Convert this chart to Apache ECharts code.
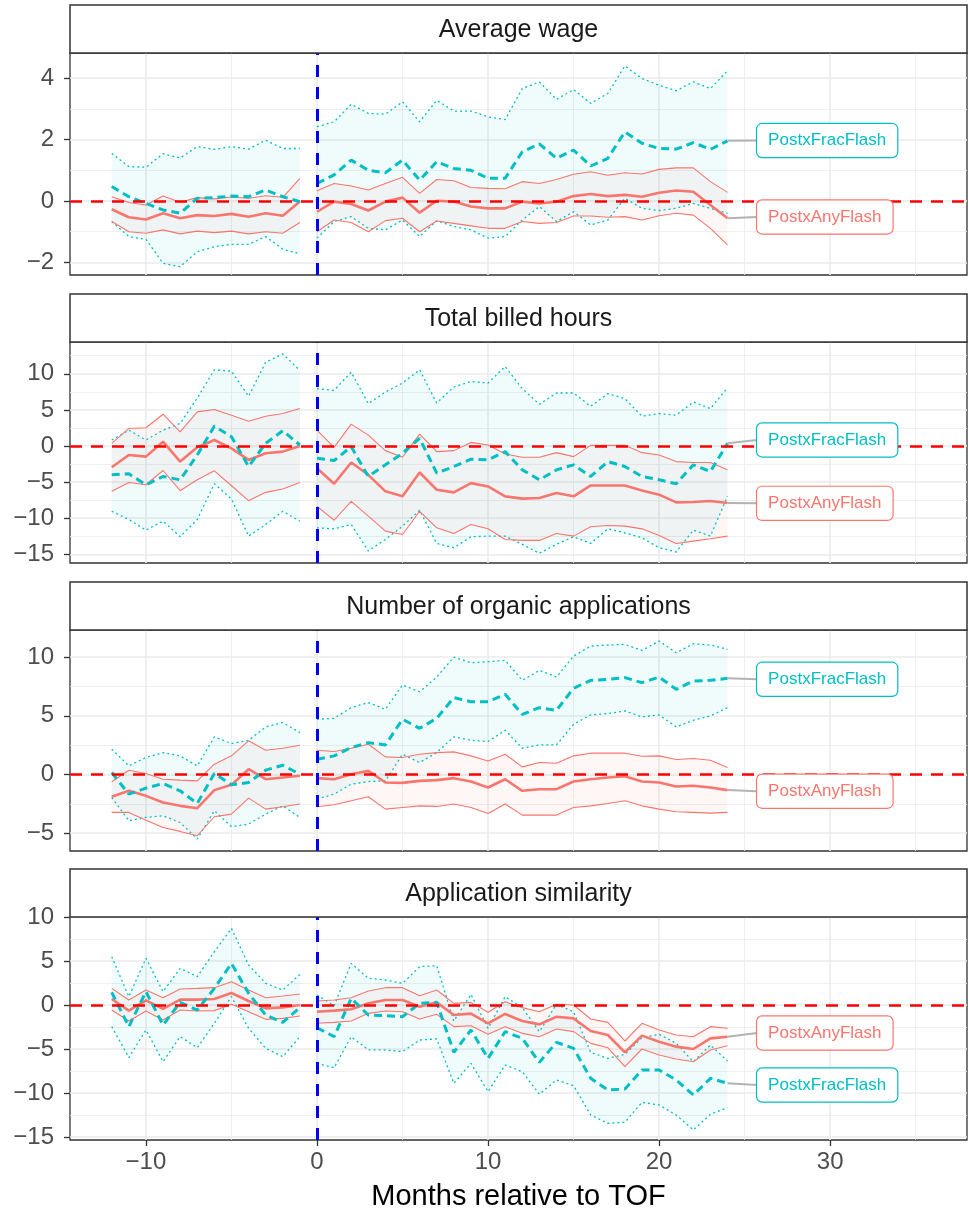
<!DOCTYPE html>
<html>
<head>
<meta charset="utf-8">
<script src="https://cdn.jsdelivr.net/npm/echarts@6/dist/echarts.min.js"></script>
<style>
  html, body { margin: 0; padding: 0; background: #fff; }
  #main { width: 968px; height: 1217px; }
</style>
</head>
<body>
<div id="main"></div>
<script>
// months relative to TOF (pre: -12..-1, post: 0..24)
var months = [-12, -11, -10, -9, -8, -7, -6, -5, -4, -3, -2, -1,
  0, 1, 2, 3, 4, 5, 6, 7, 8, 9, 10, 11, 12, 13, 14, 15, 16, 17, 18, 19, 20, 21, 22, 23, 24];

var panelTitles = ['Average wage', 'Total billed hours', 'Number of organic applications', 'Application similarity'];
var xMajorTicks = [-10, 0, 10, 20, 30];
var xMinorTicks = [-5, 5, 15, 25, 35];
var yMajorTicks = [[-2, 0, 2, 4], [-15, -10, -5, 0, 5, 10], [-5, 0, 5, 10], [-15, -10, -5, 0, 5, 10]];
var yMinorTicks = [[-1, 1, 3], [-12.5, -7.5, -2.5, 2.5, 7.5, 12.5], [-2.5, 2.5, 7.5], [-12.5, -7.5, -2.5, 2.5, 7.5]];
var yMin = [-2.41, -16.2, -6.52, -15.34];
var yMax = [4.82, 14.4, 12.32, 10.0];
var refX = 0, refY = 0;

// Average wage
var p1AnyEst = [-0.27, -0.53, -0.60, -0.40, -0.56, -0.46, -0.49, -0.42, -0.51, -0.40, -0.48, -0.02,
  -0.35, -0.02, -0.10, -0.31, -0.02, 0.11, -0.38, 0.01, -0.02, -0.18, -0.24, -0.24, -0.02, -0.08, -0.02, 0.16, 0.23, 0.16, 0.20, 0.14, 0.27, 0.34, 0.30, -0.13, -0.56];
var p1AnyHi = [0.14, -0.05, -0.13, 0.16, -0.04, 0.11, 0.07, 0.13, 0.09, 0.17, 0.12, 0.74,
  0.33, 0.57, 0.49, 0.36, 0.57, 0.77, 0.25, 0.70, 0.66, 0.44, 0.41, 0.40, 0.63, 0.57, 0.70, 0.87, 0.95, 0.84, 0.92, 0.88, 1.03, 1.08, 1.08, 0.63, 0.28];
var p1AnyLo = [-0.67, -1.00, -1.05, -0.94, -1.07, -0.98, -1.03, -0.98, -1.07, -1.00, -1.05, -0.70,
  -1.00, -0.62, -0.70, -1.00, -0.64, -0.56, -1.00, -0.65, -0.73, -0.81, -0.89, -0.89, -0.67, -0.73, -0.70, -0.49, -0.49, -0.53, -0.51, -0.62, -0.48, -0.40, -0.46, -0.89, -1.43];
var p1FracEst = [0.47, 0.14, -0.08, -0.29, -0.40, 0.09, 0.11, 0.16, 0.14, 0.36, 0.14, -0.02,
  0.57, 0.85, 1.33, 1.00, 0.92, 1.33, 0.68, 1.28, 1.06, 1.00, 0.74, 0.74, 1.60, 1.86, 1.39, 1.66, 1.14, 1.39, 2.25, 1.88, 1.71, 1.69, 1.90, 1.68, 1.96];
var p1FracHi = [1.55, 1.12, 1.10, 1.54, 1.40, 1.77, 1.68, 1.77, 1.69, 1.98, 1.71, 1.71,
  2.42, 2.58, 3.15, 2.85, 2.83, 3.23, 2.58, 3.28, 2.93, 2.93, 2.74, 2.65, 3.66, 3.88, 3.31, 3.63, 3.18, 3.50, 4.40, 3.99, 3.77, 3.59, 3.88, 3.66, 4.24];
var p1FracLo = [-0.67, -1.16, -1.25, -2.03, -2.14, -1.65, -1.49, -1.41, -1.41, -1.16, -1.57, -1.72,
  -1.21, -0.67, -0.51, -0.89, -0.94, -0.62, -1.16, -0.64, -0.83, -0.94, -1.21, -1.16, -0.62, -0.18, -0.67, -0.35, -0.78, -0.62, 0.09, -0.24, -0.31, -0.24, -0.08, -0.24, -0.40];

// Total billed hours
var p2AnyEst = [-2.94, -1.24, -1.47, 0.60, -2.16, -0.18, 0.83, -0.32, -1.93, -1.01, -0.78, 0.00,
  -3.07, -5.23, -2.29, -3.99, -6.28, -6.97, -3.67, -6.06, -6.42, -5.14, -5.60, -6.97, -7.29, -7.20, -6.51, -6.97, -5.46, -5.46, -5.46, -6.15, -6.74, -7.80, -7.75, -7.61, -7.89];
var p2AnyHi = [0.37, 2.43, 2.52, 4.40, 1.97, 4.72, 5.05, 4.27, 3.44, 4.13, 4.50, 5.18,
  2.20, -0.18, 3.03, 1.51, -0.64, -1.56, 1.65, -0.78, -0.64, 0.50, 0.14, -1.10, -1.56, -1.56, -0.92, -1.47, 0.09, 0.09, 0.09, -0.92, -1.24, -2.16, -2.29, -2.29, -3.30];
var p2AnyLo = [-6.28, -5.05, -5.37, -3.39, -6.19, -4.68, -3.44, -5.50, -7.57, -6.42, -5.96, -5.05,
  -8.35, -10.28, -7.66, -9.72, -11.79, -12.25, -9.04, -11.33, -12.11, -10.87, -11.47, -12.94, -13.07, -13.07, -12.11, -12.48, -11.19, -11.01, -11.10, -11.47, -12.39, -13.49, -13.17, -12.84, -12.48];
var p2FracEst = [-3.99, -3.85, -5.37, -4.22, -4.68, -1.24, 2.75, 1.28, -2.84, 0.37, 2.11, 0.14,
  -1.70, -2.02, -0.09, -4.22, -2.61, -1.01, 1.06, -3.76, -2.84, -1.83, -1.93, -0.78, -3.30, -4.68, -3.30, -2.61, -4.22, -2.16, -2.84, -4.22, -4.68, -5.23, -2.61, -3.53, 0.37];
var p2FracHi = [0.83, 2.20, 0.83, 2.20, 3.12, 6.65, 10.55, 10.37, 6.88, 11.60, 12.75, 10.46,
  7.94, 7.71, 10.23, 5.87, 7.48, 8.72, 10.55, 5.96, 8.17, 8.94, 8.72, 11.01, 7.94, 5.78, 7.34, 7.34, 5.50, 7.25, 6.56, 4.13, 4.50, 4.27, 6.10, 5.18, 8.07];
var p2FracLo = [-9.04, -10.18, -11.65, -10.41, -12.57, -10.18, -5.23, -7.34, -12.48, -10.87, -9.04, -10.41,
  -11.33, -11.47, -10.87, -14.54, -12.94, -11.10, -8.90, -13.49, -14.08, -12.57, -12.48, -12.48, -13.62, -14.86, -13.62, -12.57, -13.49, -11.47, -12.02, -12.71, -14.08, -14.68, -11.65, -12.48, -6.97];

// Number of organic applications
var p3AnyEst = [-1.90, -1.39, -1.82, -2.38, -2.67, -2.87, -1.33, -0.88, 0.45, -0.40, -0.26, -0.11,
  -0.31, -0.40, 0.03, 0.31, -0.68, -0.71, -0.54, -0.48, -0.31, -0.60, -1.11, -0.40, -1.39, -1.25, -1.25, -0.60, -0.40, -0.26, -0.14, -0.60, -0.68, -1.02, -0.96, -1.11, -1.33];
var p3AnyHi = [-0.62, 0.37, 0.09, -0.40, -0.48, -0.54, 0.88, 1.59, 2.87, 2.07, 2.24, 2.50,
  2.07, 1.96, 2.24, 2.58, 1.50, 1.45, 1.73, 1.87, 1.93, 1.59, 1.16, 1.73, 0.65, 1.02, 0.96, 1.59, 1.82, 1.84, 1.82, 1.56, 1.59, 1.28, 1.36, 1.22, 0.60];
var p3AnyLo = [-3.23, -3.23, -3.89, -4.51, -4.85, -5.22, -3.60, -3.38, -2.01, -2.95, -2.75, -2.52,
  -2.75, -2.58, -2.24, -1.90, -2.95, -2.81, -2.67, -2.72, -2.52, -2.81, -3.32, -2.52, -3.46, -3.46, -3.46, -2.81, -2.67, -2.47, -2.24, -2.67, -2.95, -3.18, -3.23, -3.29, -3.23];
var p3FracEst = [0.17, -1.67, -1.16, -0.77, -1.39, -2.47, 0.09, -0.88, -0.68, 0.37, 0.79, 0.03,
  1.30, 1.59, 2.30, 2.72, 2.52, 4.71, 3.94, 4.79, 6.55, 6.21, 6.21, 6.84, 5.13, 5.70, 5.47, 7.35, 8.03, 8.11, 8.26, 7.83, 8.31, 7.26, 7.97, 8.03, 8.20];
var p3FracHi = [2.16, 0.74, 1.45, 1.87, 1.59, 0.74, 3.21, 2.64, 2.92, 4.06, 4.43, 3.57,
  4.71, 4.79, 5.70, 6.13, 5.56, 7.63, 7.06, 8.31, 10.01, 9.53, 9.62, 9.73, 8.03, 8.88, 8.31, 10.10, 10.95, 11.04, 11.09, 10.58, 11.38, 10.38, 11.15, 11.04, 10.67];
var p3FracLo = [-1.96, -3.94, -3.66, -3.52, -4.09, -5.50, -3.09, -4.45, -4.23, -3.38, -2.67, -3.66,
  -2.10, -1.67, -0.82, -0.60, -0.54, 1.73, 1.02, 1.87, 3.21, 2.92, 2.81, 3.77, 2.24, 2.52, 2.52, 4.28, 5.08, 5.19, 5.42, 4.91, 5.08, 4.06, 4.62, 4.99, 5.70];

// Application similarity
var p4AnyEst = [0.68, -0.64, 0.53, -0.45, 0.61, 0.61, 0.68, 1.36, 0.45, -0.38, -0.27, 0.00,
  -0.76, -0.64, -0.49, 0.19, 0.57, 0.57, -0.19, 0.30, -1.14, -0.98, -2.08, -1.02, -1.82, -2.20, -1.33, -1.52, -2.95, -3.41, -5.38, -3.48, -4.17, -4.73, -5.00, -3.79, -3.60];
var p4AnyHi = [1.89, 0.57, 1.70, 0.83, 1.82, 1.89, 1.97, 2.65, 1.70, 0.83, 1.02, 1.25,
  0.45, 0.57, 0.83, 1.59, 1.97, 1.97, 1.06, 1.70, 0.19, 0.30, -0.83, 0.38, -0.30, -0.76, 0.08, 0.00, -1.59, -1.97, -4.09, -2.08, -2.84, -3.41, -3.60, -2.46, -2.65];
var p4AnyLo = [-0.57, -1.82, -0.68, -1.70, -0.57, -0.68, -0.64, 0.08, -0.76, -1.63, -1.52, -1.25,
  -2.08, -1.97, -1.82, -0.95, -0.68, -0.76, -1.59, -1.06, -2.46, -2.35, -3.33, -2.46, -3.22, -3.60, -2.73, -3.03, -4.36, -4.85, -7.01, -5.00, -5.68, -6.14, -6.44, -5.11, -4.62];
var p4FracEst = [1.44, -2.46, 1.52, -2.27, 0.30, -0.57, 1.89, 4.73, 1.33, -1.14, -1.97, -0.30,
  -2.58, -3.60, 0.76, -1.14, -1.21, -1.33, 0.19, 0.30, -5.38, -2.84, -6.06, -3.03, -3.79, -6.52, -4.24, -4.92, -8.33, -9.66, -9.55, -7.39, -7.39, -8.52, -10.23, -8.33, -8.90];
var p4FracHi = [5.49, 0.95, 5.30, 1.52, 4.17, 3.22, 6.06, 8.71, 4.55, 2.46, 1.70, 3.48,
  1.14, -0.08, 4.73, 3.03, 2.84, 2.46, 4.36, 4.47, -1.82, 1.21, -2.65, 0.95, -0.30, -3.03, 0.08, -0.76, -5.38, -6.06, -5.61, -3.71, -3.33, -4.36, -6.44, -4.55, -6.36];
var p4FracLo = [-2.46, -5.98, -2.84, -6.44, -3.60, -4.85, -2.08, 0.95, -2.65, -4.92, -5.87, -3.60,
  -6.63, -7.12, -3.60, -5.11, -5.11, -5.30, -3.98, -3.86, -8.90, -6.63, -9.85, -6.82, -7.58, -10.15, -8.52, -9.17, -12.50, -13.45, -13.33, -11.06, -11.36, -12.50, -14.20, -12.42, -11.67];

// repelled label positions (y) per panel, label left edge at x = labelX
var labelX = 25.73;
var labelFracY = [1.97, 0.84, 8.12, -9.09];
var labelAnyY = [-0.52, -7.94, -1.42, -3.18];

var gridTop = [53, 342, 630, 917];
var gridHeight = [222, 221, 221, 223];
var stripHeight = 48;

var RED = '#F8766D', CYAN = '#00BFC4';
var FONT = '"Liberation Sans", Arial, sans-serif';

var panelData = [
  [p1AnyEst, p1AnyLo, p1AnyHi, p1FracEst, p1FracLo, p1FracHi],
  [p2AnyEst, p2AnyLo, p2AnyHi, p2FracEst, p2FracLo, p2FracHi],
  [p3AnyEst, p3AnyLo, p3AnyHi, p3FracEst, p3FracLo, p3FracHi],
  [p4AnyEst, p4AnyLo, p4AnyHi, p4FracEst, p4FracLo, p4FracHi]
];

// index of first post-period month (lines break between -1 and 0)
var splitAt = months.indexOf(0);

function pairs(vals) {
  var out = [];
  for (var i = 0; i < months.length; i++) {
    if (i == splitAt) out.push([-0.5, '-']);
    out.push([months[i], vals[i]]);
  }
  return out;
}

function ribbon(lo, hi, fill) {
  return function (params, api) {
    var seg = api.value(0);
    var from = seg == 0 ? 0 : splitAt;
    var to = seg == 0 ? splitAt - 1 : months.length - 1;
    var pts = [];
    for (var k = from; k <= to; k++) pts.push(api.coord([months[k], hi[k]]));
    for (var k = to; k >= from; k--) pts.push(api.coord([months[k], lo[k]]));
    return { type: 'polygon', shape: { points: pts }, style: { fill: fill } };
  };
}

function minus(v) {
  return String(v).replace('-', '\u2212');
}

var grids = [], xAxes = [], yAxes = [], series = [], graphics = [];

for (var p = 0; p < 4; p++) {
  var last = p == 3;
  grids.push({
    left: 70, right: 1, top: gridTop[p], height: gridHeight[p],
    show: true, borderColor: '#333', borderWidth: 1.3, backgroundColor: 'transparent'
  });

  // major x axis
  xAxes.push({
    type: 'value', gridIndex: p, min: -14.44, max: 38.0, position: 'bottom',
    axisLine: { show: false, onZero: false },
    axisTick: { show: last, length: 6, lineStyle: { color: '#333', width: 1.3 }, customValues: xMajorTicks },
    axisLabel: { show: last, customValues: xMajorTicks, fontSize: 24, color: '#4D4D4D', fontFamily: FONT, margin: 10, formatter: minus },
    splitLine: { show: true, lineStyle: { color: '#EBEBEB', width: 1.6 } },
    name: last ? 'Months relative to TOF' : '',
    nameLocation: 'middle', nameGap: 42,
    nameTextStyle: { fontSize: 29, color: '#000', fontFamily: FONT }
  });
  // minor x axis (grid lines only)
  xAxes.push({
    type: 'value', gridIndex: p, min: -14.44, max: 38.0, position: 'top',
    axisLine: { show: false, onZero: false },
    axisTick: { show: false, customValues: xMinorTicks },
    axisLabel: { show: false },
    splitLine: { show: true, lineStyle: { color: '#EBEBEB', width: 0.8 } }
  });

  yAxes.push({
    type: 'value', gridIndex: p, min: yMin[p], max: yMax[p], position: 'left',
    axisLine: { show: false, onZero: false },
    axisTick: { show: true, length: 6, lineStyle: { color: '#333', width: 1.3 }, customValues: yMajorTicks[p] },
    axisLabel: { customValues: yMajorTicks[p], fontSize: 24, color: '#4D4D4D', fontFamily: FONT, margin: 16, formatter: minus },
    splitLine: { show: true, lineStyle: { color: '#EBEBEB', width: 1.6 } }
  });
  yAxes.push({
    type: 'value', gridIndex: p, min: yMin[p], max: yMax[p], position: 'right',
    axisLine: { show: false, onZero: false },
    axisTick: { show: false, customValues: yMinorTicks[p] },
    axisLabel: { show: false },
    splitLine: { show: true, lineStyle: { color: '#EBEBEB', width: 0.8 } }
  });

  var xi = 2 * p, yi = 2 * p;
  var d = panelData[p];
  var anyEst = d[0], anyLo = d[1], anyHi = d[2], fracEst = d[3], fracLo = d[4], fracHi = d[5];

  // ribbons
  series.push({
    type: 'custom', xAxisIndex: xi, yAxisIndex: yi, silent: true, z: 1,
    renderItem: ribbon(fracLo, fracHi, 'rgba(0,191,196,0.06)'),
    data: [[0, 0], [1, 0]], encode: { x: 0, y: 1 }
  });
  series.push({
    type: 'custom', xAxisIndex: xi, yAxisIndex: yi, silent: true, z: 1,
    renderItem: ribbon(anyLo, anyHi, 'rgba(248,118,109,0.06)'),
    data: [[0, 0], [1, 0]], encode: { x: 0, y: 1 }
  });

  // bounds
  [fracLo, fracHi].forEach(function (vals) {
    series.push({
      type: 'line', xAxisIndex: xi, yAxisIndex: yi, data: pairs(vals), showSymbol: false, z: 2,
      lineStyle: { color: CYAN, width: 1.3, type: [2, 3] }
    });
  });
  [anyLo, anyHi].forEach(function (vals) {
    series.push({
      type: 'line', xAxisIndex: xi, yAxisIndex: yi, data: pairs(vals), showSymbol: false, z: 2,
      lineStyle: { color: RED, width: 1.1 }
    });
  });
  // estimates
  series.push({
    type: 'line', xAxisIndex: xi, yAxisIndex: yi, data: pairs(anyEst), showSymbol: false, z: 3,
    lineStyle: { color: RED, width: 2.6 }
  });
  series.push({
    type: 'line', xAxisIndex: xi, yAxisIndex: yi, data: pairs(fracEst), showSymbol: false, z: 3,
    lineStyle: { color: CYAN, width: 3, type: [8, 5] }
  });

  // label connectors and boxes
  var n = months.length - 1;
  var labels = [
    { name: 'PostxFracFlash', color: CYAN, y0: fracEst[n], y1: labelFracY[p] },
    { name: 'PostxAnyFlash', color: RED, y0: anyEst[n], y1: labelAnyY[p] }
  ];
  labels.forEach(function (lb) {
    series.push({
      type: 'line', xAxisIndex: xi, yAxisIndex: yi, showSymbol: false, z: 4,
      data: [[months[n], lb.y0], [labelX, lb.y1]],
      lineStyle: { color: '#B3B3B3', width: 2 }
    });
    series.push({
      type: 'scatter', xAxisIndex: xi, yAxisIndex: yi, z: 5, symbolSize: 0,
      itemStyle: { opacity: 1 },
      data: [{ name: lb.name, value: [labelX, lb.y1] }],
      label: {
        show: true, position: 'right', distance: 0, formatter: '{b}', opacity: 1,
        color: lb.color, fontSize: 17, fontFamily: FONT, lineHeight: 19,
        backgroundColor: '#fff', borderColor: lb.color, borderWidth: 1.2, borderRadius: 5,
        padding: [7, 11, 7, 11]
      }
    });
  });

  // reference lines
  series.push({
    type: 'line', xAxisIndex: xi, yAxisIndex: yi, data: [], z: 6,
    markLine: {
      symbol: 'none', silent: true, label: { show: false }, animation: false,
      data: [
        { yAxis: refY, lineStyle: { color: '#FF0000', width: 2.5, type: [12, 9] } },
        { xAxis: refX, lineStyle: { color: '#0000FF', width: 3, type: [12, 10] } }
      ]
    }
  });

  // facet strip
  var st = gridTop[p] - stripHeight;
  graphics.push({
    type: 'rect', shape: { x: 70, y: st, width: 897, height: stripHeight },
    style: { fill: '#fff', stroke: '#333', lineWidth: 1.5 }, z: 100
  });
  graphics.push({
    type: 'text', x: 70 + 897 / 2, y: st + stripHeight / 2 + 1, z: 101,
    style: { text: panelTitles[p], fontSize: 25, fontFamily: FONT, fill: '#1A1A1A', align: 'center', verticalAlign: 'middle' }
  });
}

var chart = echarts.init(document.getElementById('main'));
chart.setOption({
  animation: false,
  backgroundColor: '#fff',
  grid: grids,
  xAxis: xAxes,
  yAxis: yAxes,
  series: series,
  graphic: graphics
});
</script>
</body>
</html>
